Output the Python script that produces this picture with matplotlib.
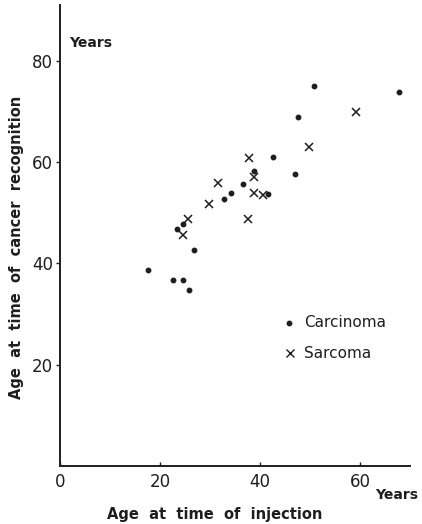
import matplotlib
matplotlib.use("Agg")
import matplotlib.pyplot as plt

carc_x = [50.8, 67.7, 47.6, 42.6, 46.9, 38.8, 36.5, 34.1, 32.7, 41.5, 24.5, 23.4, 26.7, 17.5, 22.5, 24.6, 25.7]
carc_y = [75.0, 73.8, 68.8, 61.0, 57.7, 58.2, 55.7, 53.9, 52.7, 53.7, 47.8, 46.7, 42.7, 38.6, 36.7, 36.8, 34.7]
sarc_x = [59.1, 49.7, 37.7, 38.7, 31.6, 38.7, 40.6, 29.7, 37.5, 25.6, 24.6]
sarc_y = [69.8, 62.9, 60.8, 57.1, 55.8, 53.8, 53.5, 51.7, 48.8, 48.8, 45.6]

x_ticks = [0, 20, 40, 60]
y_ticks = [20, 40, 60, 80]

ink = "#1e1e1e"
fig = plt.figure(figsize=(4.22, 5.24), dpi=100)
ax = fig.add_axes([60/422, 58/524, 350/422, 461/524])
ax.set_xlim(0, 70)
ax.set_ylim(0, 91)

ax.plot(carc_x, carc_y, linestyle="none", marker="o", markersize=3.2, color=ink)
ax.plot(sarc_x, sarc_y, linestyle="none", marker="x", markersize=5.5, markeredgewidth=1.1, color=ink)

for s in ["top", "right"]:
    ax.spines[s].set_visible(False)
for s in ["left", "bottom"]:
    ax.spines[s].set_linewidth(1.4)
    ax.spines[s].set_color(ink)

ax.set_xticks(x_ticks)
ax.set_yticks(y_ticks)
ax.tick_params(axis="x", direction="in", length=3, width=1, pad=5, labelsize=12, colors=ink)
ax.tick_params(axis="y", direction="out", length=3, width=1, pad=2, labelsize=12, colors=ink)

ax.text(1.8, 83.5, "Years", fontsize=10, fontweight="bold", color=ink, ha="left", va="center")
fig.text(418/422, 1 - 495/524, "Years", fontsize=10, fontweight="bold", color=ink, ha="right", va="center")
fig.text(215/422, 1 - 514/524, "Age  at  time  of  injection", fontsize=10.5, fontweight="bold", color=ink, ha="center", va="center")
fig.text(17/422, 1 - 247/524, "Age  at  time  of  cancer  recognition", fontsize=10.5, fontweight="bold",
         color=ink, ha="center", va="center", rotation=90)

# legend
ax.plot([45.8], [28.3], linestyle="none", marker="o", markersize=3.2, color=ink)
ax.plot([46.0], [22.3], linestyle="none", marker="x", markersize=6, markeredgewidth=1.0, color=ink)
ax.text(48.8, 28.3, "Carcinoma", fontsize=11, color=ink, ha="left", va="center")
ax.text(48.8, 22.3, "Sarcoma", fontsize=11, color=ink, ha="left", va="center")

fig.savefig("out.png", dpi=100)
